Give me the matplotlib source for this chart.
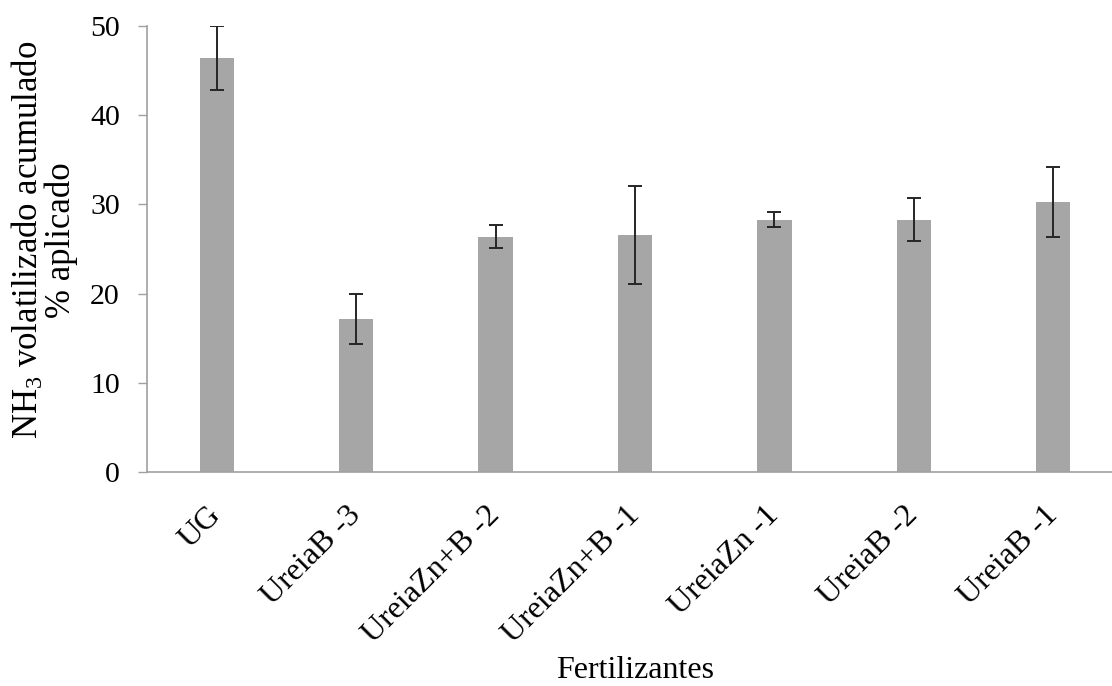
import numpy as np
import matplotlib
matplotlib.use("Agg")
import matplotlib.pyplot as plt

plt.rcParams['font.family'] = ['Liberation Serif', 'DejaVu Serif']
plt.rcParams['mathtext.fontset'] = 'custom'
plt.rcParams['mathtext.rm'] = 'Liberation Serif'
plt.rcParams['mathtext.it'] = 'Liberation Serif:italic'

# Cumulative NH3 volatilization per fertilizer (% of applied N)
fertilizantes = ["UG", "UreiaB -3", "UreiaZn+B -2", "UreiaZn+B -1",
                 "UreiaZn -1", "UreiaB -2", "UreiaB -1"]
media = [46.4, 17.1, 26.4, 26.6, 28.3, 28.3, 30.3]
erro = [3.6, 2.8, 1.25, 5.5, 0.8, 2.4, 3.9]

fig = plt.figure(figsize=(11.12, 6.86), dpi=100)
ax = fig.add_axes([147 / 1112, (686 - 472) / 686, (1123 - 147) / 1112, (472 - 26) / 686])

x = np.arange(len(fertilizantes))
ax.bar(x, media, width=0.245, color="#a6a6a6", zorder=2)
ax.errorbar(x, media, yerr=erro, fmt="none", ecolor="#262626",
            elinewidth=1.4, capsize=5.2, capthick=1.4, zorder=3)

ax.set_xlim(-0.5, len(fertilizantes) - 0.5)
ax.set_ylim(0, 50)
ax.set_yticks(np.arange(0, 51, 10))
ax.set_xticks(x)
ax.set_xticklabels(fertilizantes, rotation=45, ha="right", va="center",
                   rotation_mode="anchor", fontsize=23)
ax.tick_params(axis="x", length=0, pad=28)
ax.tick_params(axis="y", labelsize=21.5, length=6.5, width=1, color="#a0a0a0",
               direction="out", pad=13)

for side in ["top", "right"]:
    ax.spines[side].set_visible(False)
for side in ["left", "bottom"]:
    ax.spines[side].set_color("#a0a0a0")
    ax.spines[side].set_linewidth(1.2)

ax.set_ylabel("NH$_3$ volatilizado acumulado\n% aplicado", fontsize=25,
              linespacing=0.95)
ax.yaxis.label.set_va("center")
ax.yaxis.set_label_coords(-0.105, 0.52)

ax.set_xlabel("Fertilizantes", fontsize=23)
ax.xaxis.label.set_va("baseline")
ax.xaxis.set_label_coords(0.5, -0.462)

fig.savefig("out.png", dpi=100)
